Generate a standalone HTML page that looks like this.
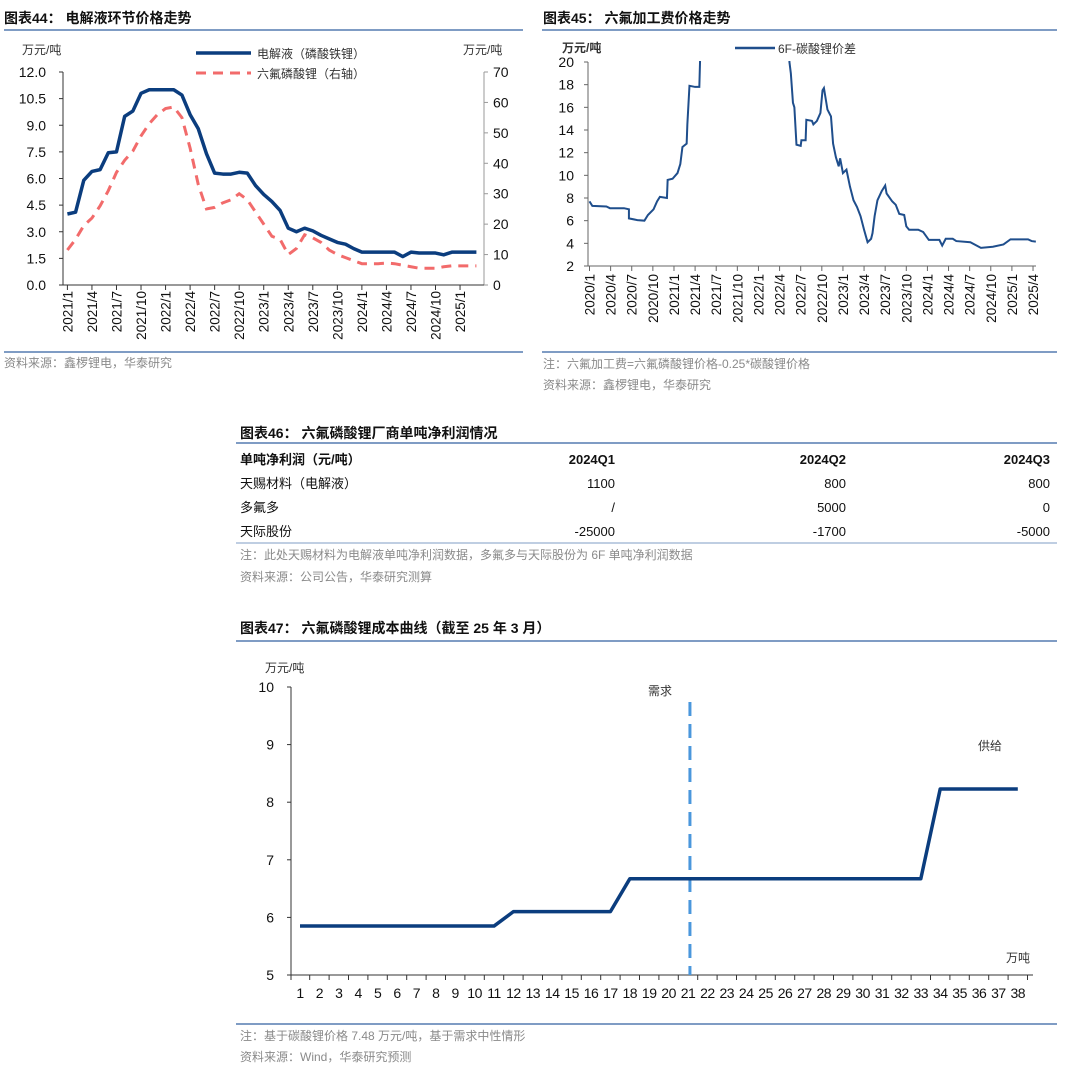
<!DOCTYPE html>
<html><head><meta charset="utf-8">
<style>
html,body{margin:0;padding:0;background:#fff;}
svg{display:block;font-family:"Liberation Sans","Noto Sans CJK SC",sans-serif;}
.t{font-size:14px;font-weight:bold;fill:#111;}
.n{font-size:12px;fill:#8a8a8a;}
.tk{font-size:14px;fill:#111;}
.u{font-size:12px;fill:#333;}
</style></head>
<body>
<svg id="page" width="1080" height="1073" viewBox="0 0 1080 1073" xmlns="http://www.w3.org/2000/svg">
<!-- chart 44 frame -->
<text class="t" x="4" y="23">图表44：  电解液环节价格走势</text>
<line x1="4" y1="30" x2="523" y2="30" stroke="#7f9cc4" stroke-width="2"/>
<text class="u" x="22" y="54">万元/吨</text>
<text class="u" x="463" y="54">万元/吨</text>
<g>
<line x1="196" y1="53" x2="251" y2="53" stroke="#0b3d7e" stroke-width="3.5"/>
<text class="u" x="257" y="58">电解液（磷酸铁锂）</text>
<line x1="196" y1="73" x2="251" y2="73" stroke="#f26b6b" stroke-width="3" stroke-dasharray="10,7"/>
<text class="u" x="257" y="78">六氟磷酸锂（右轴）</text>
</g>
<g id="c44"></g>
<line x1="4" y1="352" x2="523" y2="352" stroke="#7f9cc4" stroke-width="2"/>
<text class="n" x="4" y="367">资料来源：鑫椤锂电，华泰研究</text>

<!-- chart 45 frame -->
<text class="t" x="543" y="23">图表45：  六氟加工费价格走势</text>
<line x1="542" y1="30" x2="1057" y2="30" stroke="#7f9cc4" stroke-width="2"/>
<text class="u" x="562" y="52" style="font-weight:bold">万元/吨</text>
<line x1="735" y1="48" x2="775" y2="48" stroke="#1f4e8c" stroke-width="2.5"/>
<text class="u" x="778" y="53">6F-碳酸锂价差</text>
<g id="c45"></g>
<line x1="542" y1="352" x2="1057" y2="352" stroke="#7f9cc4" stroke-width="2"/>
<text class="n" x="543" y="368">注：六氟加工费=六氟磷酸锂价格-0.25*碳酸锂价格</text>
<text class="n" x="543" y="389">资料来源：鑫椤锂电，华泰研究</text>

<!-- table 46 -->
<g>
<text class="t" x="240" y="438">图表46：  六氟磷酸锂厂商单吨净利润情况</text>
<line x1="236" y1="443" x2="1057" y2="443" stroke="#7f9cc4" stroke-width="2"/>
<g style="font-size:13px;font-weight:bold;fill:#111">
<text x="240" y="464">单吨净利润（元/吨）</text>
<text x="615" y="464" text-anchor="end">2024Q1</text>
<text x="846" y="464" text-anchor="end">2024Q2</text>
<text x="1050" y="464" text-anchor="end">2024Q3</text>
</g>
<g style="font-size:13px;fill:#111">
<text x="240" y="488">天赐材料（电解液）</text>
<text x="615" y="488" text-anchor="end">1100</text>
<text x="846" y="488" text-anchor="end">800</text>
<text x="1050" y="488" text-anchor="end">800</text>
</g>
<g style="font-size:13px;fill:#111">
<text x="240" y="512">多氟多</text>
<text x="615" y="512" text-anchor="end">/</text>
<text x="846" y="512" text-anchor="end">5000</text>
<text x="1050" y="512" text-anchor="end">0</text>
</g>
<g style="font-size:13px;fill:#111">
<text x="240" y="536">天际股份</text>
<text x="615" y="536" text-anchor="end">-25000</text>
<text x="846" y="536" text-anchor="end">-1700</text>
<text x="1050" y="536" text-anchor="end">-5000</text>
</g>
<line x1="236" y1="543" x2="1057" y2="543" stroke="#7f9cc4" stroke-width="1"/>
<text class="n" x="240" y="559">注：此处天赐材料为电解液单吨净利润数据，多氟多与天际股份为 6F 单吨净利润数据</text>
<text class="n" x="240" y="581">资料来源：公司公告，华泰研究测算</text>
</g>

<!-- chart 47 frame -->
<text class="t" x="240" y="633">图表47：  六氟磷酸锂成本曲线（截至 25 年 3 月）</text>
<line x1="236" y1="641" x2="1057" y2="641" stroke="#7f9cc4" stroke-width="2"/>
<text class="u" x="265" y="672">万元/吨</text>
<text class="u" x="1006" y="962">万吨</text>
<text class="u" x="648" y="695">需求</text>
<text class="u" x="978" y="750">供给</text>
<g id="c47"></g>
<line x1="236" y1="1024" x2="1057" y2="1024" stroke="#7f9cc4" stroke-width="2"/>
<text class="n" x="240" y="1040">注：基于碳酸锂价格 7.48 万元/吨，基于需求中性情形</text>
<text class="n" x="240" y="1061">资料来源：Wind，华泰研究预测</text>
</svg>

<script>
// ---------- chart 44 data ----------
const c44Labels = ['2021/1','2021/4','2021/7','2021/10','2022/1','2022/4','2022/7','2022/10','2023/1','2023/4','2023/7','2023/10','2024/1','2024/4','2024/7','2024/10','2025/1'];
const c44LeftTicks = [0, 1.5, 3, 4.5, 6, 7.5, 9, 10.5, 12];
const c44RightTicks = [0, 10, 20, 30, 40, 50, 60, 70];
const c44Electrolyte = [4.0,4.1,5.9,6.4,6.5,7.45,7.5,9.5,9.8,10.8,11.0,11.0,11.0,11.0,10.7,9.6,8.8,7.4,6.3,6.25,6.25,6.35,6.3,5.6,5.1,4.7,4.2,3.2,3.0,3.2,3.05,2.8,2.6,2.4,2.3,2.05,1.85,1.85,1.85,1.85,1.85,1.6,1.85,1.8,1.8,1.8,1.7,1.85,1.85,1.85,1.85];
const c44LiPF6 = [11.5,15,19.5,22,26,31,37,41,44,49,53,56,58,58.5,55,45,33,25,25.5,27,28,30,28,24,20,16,15,10,12,16.5,15.5,14,11.5,10,9,8,7,7,7,7.2,7,6.5,6,5.5,5.5,5.5,6,6.3,6.3,6.3,6.3];

// ---------- chart 45 data ----------
const c45Labels = ['2020/1','2020/4','2020/7','2020/10','2021/1','2021/4','2021/7','2021/10','2022/1','2022/4','2022/7','2022/10','2023/1','2023/4','2023/7','2023/10','2024/1','2024/4','2024/7','2024/10','2025/1','2025/4'];
const c45Ticks = [2,4,6,8,10,12,14,16,18,20];
const c45Month = [0,0.4,2.4,2.9,4.9,5.6,5.6,6.8,7.8,8.3,9.1,9.6,10.0,11.0,11.1,11.8,12.5,12.9,13.2,13.8,13.9,14.2,15.0,15.6,15.7,15.75,28.3,28.4,28.6,28.9,29.1,29.4,30.0,30.1,30.7,30.8,31.6,31.8,32.3,32.8,33.1,33.3,33.8,34.3,34.6,35.0,35.4,35.6,36.0,36.5,37.0,37.5,38.0,38.5,39.0,39.5,40.0,40.2,40.5,40.9,41.5,42.0,42.2,43.0,43.5,44.0,44.7,45.0,45.4,46.7,47.4,48.2,49.7,50.1,50.6,51.6,52.1,54.1,55.6,57.3,58.8,59.8,62.3,62.8,63.4];
const c45Spread = [7.7,7.3,7.25,7.1,7.1,7.0,6.2,6.05,6.0,6.5,7.0,7.7,8.1,8.0,9.6,9.7,10.2,11.0,12.5,12.8,14.5,17.9,17.8,17.8,20,26,26,20,19,16.4,16,12.7,12.6,13.1,13.1,14.9,14.8,14.5,14.8,15.5,17.5,17.7,15.8,15.2,12.8,11.6,10.8,11.5,10.2,10.5,9.0,7.8,7.2,6.4,5.2,4.1,4.4,4.9,6.4,7.8,8.6,9.1,8.4,7.7,7.4,6.6,6.5,5.5,5.2,5.2,5.0,4.3,4.3,3.8,4.4,4.4,4.2,4.1,3.6,3.7,3.9,4.35,4.35,4.2,4.15];

// ---------- chart 47 data ----------
const c47Capacity = [1,2,3,4,5,6,7,8,9,10,11,12,13,14,15,16,17,18,19,20,21,22,23,24,25,26,27,28,29,30,31,32,33,34,35,36,37,38];
const c47Cost = [5.85,5.85,5.85,5.85,5.85,5.85,5.85,5.85,5.85,5.85,5.85,6.1,6.1,6.1,6.1,6.1,6.1,6.67,6.67,6.67,6.67,6.67,6.67,6.67,6.67,6.67,6.67,6.67,6.67,6.67,6.67,6.67,6.67,8.23,8.23,8.23,8.23,8.23];
const c47YTicks = [5,6,7,8,9,10];
const c47Demand = 21.1;

const NS = 'http://www.w3.org/2000/svg';
function mk(parent, tag, attrs, txt) {
  const e = document.createElementNS(NS, tag);
  for (const k in attrs) e.setAttribute(k, attrs[k]);
  if (txt !== undefined) e.textContent = txt;
  parent.appendChild(e);
  return e;
}

// ===== chart 44 =====
(function(){
  const g = document.getElementById('c44');
  const x = i => 67.4 + i * 8.18;
  const yL = v => 285 - v * 213 / 12;
  const yR = v => 285 - v * 213 / 70;
  let e;
  e = mk(g, 'line', {x1:63, y1:72, x2:63, y2:285, stroke:'#333', 'stroke-width':1});
  
  
  e = mk(g, 'line', {x1:484, y1:72, x2:484, y2:285, stroke:'#999', 'stroke-width':1});
  
  
  e = mk(g, 'line', {x1:63, y1:285, x2:484, y2:285, stroke:'#333', 'stroke-width':1});
  
  
  c44LeftTicks.forEach(v => {
    mk(g, 'line', {x1:59, y1:yL(v), x2:63, y2:yL(v), stroke:'#333'});
    e = mk(g, 'text', {x:46, y:yL(v)+5, 'text-anchor':'end', class:'tk'}, v.toFixed(1));
    
    
  });
  c44RightTicks.forEach(v => {
    mk(g, 'line', {x1:484, y1:yR(v), x2:488, y2:yR(v), stroke:'#999'});
    e = mk(g, 'text', {x:493, y:yR(v)+5, class:'tk'}, String(v));
    
    
  });
  c44Labels.forEach((lab, k) => {
    const xx = x(k * 3);
    mk(g, 'line', {x1:xx, y1:285, x2:xx, y2:290, stroke:'#333'});
    e = mk(g, 'text', {transform:'translate('+(xx+5)+',291) rotate(-90)', 'text-anchor':'end', class:'tk', style:'font-size:13.5px'}, lab);
    
    
  });
  e = mk(g, 'polyline', {points: c44LiPF6.map((v,i)=>x(i)+','+yR(v)).join(' '), fill:'none', stroke:'#f26b6b', 'stroke-width':3, 'stroke-dasharray':'10,7'});
  
  
  e = mk(g, 'polyline', {points: c44Electrolyte.map((v,i)=>x(i)+','+yL(v)).join(' '), fill:'none', stroke:'#0b3d7e', 'stroke-width':3.5, 'stroke-linejoin':'round'});
  
  
})();

// ===== chart 45 =====
(function(){
  const g = document.getElementById('c45');
  const x = m => 589.5 + m * 7.04;
  const y = v => 266 - (v - 2) * 204 / 18;
  let e;
  const defs = mk(g, 'defs', {});
  const cp = mk(defs, 'clipPath', {id:'clip45'});
  mk(cp, 'rect', {x:586, y:61, width:460, height:210});
  e = mk(g, 'line', {x1:588, y1:62, x2:588, y2:266, stroke:'#666'});
  
  
  e = mk(g, 'line', {x1:588, y1:266, x2:1036, y2:266, stroke:'#666'});
  
  
  c45Ticks.forEach(v => {
    mk(g, 'line', {x1:584, y1:y(v), x2:588, y2:y(v), stroke:'#666'});
    e = mk(g, 'text', {x:574, y:y(v)+5, 'text-anchor':'end', class:'tk'}, String(v));
    
    
  });
  c45Labels.forEach((lab, k) => {
    const xx = x(k * 3);
    mk(g, 'line', {x1:xx, y1:266, x2:xx, y2:271, stroke:'#666'});
    e = mk(g, 'text', {transform:'translate('+(xx+5)+',274) rotate(-90)', 'text-anchor':'end', class:'tk', style:'font-size:13.5px'}, lab);
    
    
  });
  e = mk(g, 'polyline', {points: c45Spread.map((v,i)=>x(c45Month[i])+','+y(v)).join(' '), fill:'none', stroke:'#1f4e8c', 'stroke-width':2, 'clip-path':'url(#clip45)'});
  
  
})();

// ===== chart 47 =====
(function(){
  const g = document.getElementById('c47');
  const x = n => 300 + (n - 1) * 19.4;
  const y = v => 975 - (v - 5) * 57.6;
  let e;
  e = mk(g, 'line', {x1:291, y1:687, x2:291, y2:975, stroke:'#333'});
  
  
  e = mk(g, 'line', {x1:291, y1:975, x2:1033, y2:975, stroke:'#333'});
  
  
  c47YTicks.forEach(v => {
    mk(g, 'line', {x1:287, y1:y(v), x2:291, y2:y(v), stroke:'#333'});
    e = mk(g, 'text', {x:274, y:y(v)+5, 'text-anchor':'end', class:'tk'}, String(v));
    
    
  });
  c47Capacity.forEach(n => {
    const tx = x(n) + 9.7;
    mk(g, 'line', {x1:tx, y1:975, x2:tx, y2:980, stroke:'#333'});
    e = mk(g, 'text', {x:x(n), y:998, 'text-anchor':'middle', class:'tk', style:'font-size:14px;letter-spacing:-0.5px'}, String(n));
    
    
  });
  mk(g, 'line', {x1:291, y1:975, x2:291, y2:980, stroke:'#333'});
  e = mk(g, 'line', {x1:x(c47Demand), y1:702, x2:x(c47Demand), y2:975, stroke:'#4a97dc', 'stroke-width':3, 'stroke-dasharray':'14,8'});
  
  
  e = mk(g, 'polyline', {points: c47Cost.map((v,i)=>x(c47Capacity[i])+','+y(v)).join(' '), fill:'none', stroke:'#0b3d7e', 'stroke-width':3.5, 'stroke-linejoin':'round'});
  
  
})();
</script>
</body></html>
